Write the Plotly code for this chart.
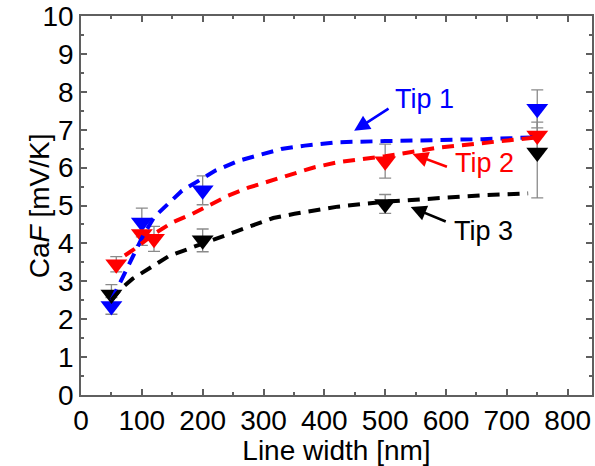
import plotly.graph_objects as go

# Measured points (triangles with error bars)
tip1_x = [50, 100, 200, 750]
tip1_y = [2.35, 4.55, 5.4, 7.55]
tip1_err = [0.22, 0.38, 0.38, 0.5]

tip2_x = [58, 100, 120, 500, 750]
tip2_y = [3.45, 4.25, 4.12, 6.17, 6.85]
tip2_err = [0.2, 0.3, 0.33, 0.45, 0.35]

tip3_x = [50, 200, 500, 750]
tip3_y = [2.65, 4.08, 5.04, 6.4]
tip3_err = [0.26, 0.3, 0.25, 1.2]

# Fitted saturation curves (dashed)
fit1_x = [50, 66, 101, 120, 145, 166, 193, 221, 259, 297, 329, 368, 422, 500, 585, 660, 750]
fit1_y = [2.5, 3.03, 4.17, 4.69, 5.08, 5.39, 5.65, 5.92, 6.18, 6.36, 6.49, 6.58, 6.67, 6.7, 6.72, 6.75, 6.8]

fit2_x = [72, 85, 120, 150, 183, 221, 242, 275, 313, 346, 384, 422, 500, 585, 650, 727, 750]
fit2_y = [3.68, 3.82, 4.25, 4.55, 4.78, 5.1, 5.26, 5.47, 5.66, 5.82, 6.01, 6.14, 6.3, 6.52, 6.62, 6.76, 6.8]

fit3_x = [50, 66, 85, 112, 144, 199, 270, 316, 351, 384, 422, 500, 585, 660, 735]
fit3_y = [2.5, 2.81, 3.07, 3.33, 3.66, 3.99, 4.39, 4.67, 4.78, 4.87, 4.97, 5.1, 5.2, 5.27, 5.32]

series = [
    ("Tip 1", "#0000ff", tip1_x, tip1_y, tip1_err, fit1_x, fit1_y),
    ("Tip 2", "#ff0000", tip2_x, tip2_y, tip2_err, fit2_x, fit2_y),
    ("Tip 3", "#000000", tip3_x, tip3_y, tip3_err, fit3_x, fit3_y),
]

FONT = "Liberation Sans, Arial, sans-serif"
AXIS_GREY = "#5f5f5f"

fig = go.Figure()

# Error bars first so the triangles sit on top of them
for name, color, px, py, pe, _, _ in series:
    fig.add_trace(go.Scatter(
        x=px, y=py, mode="markers", name=name + " error",
        marker=dict(size=1, color="rgba(0,0,0,0)"),
        error_y=dict(type="data", array=pe, visible=True,
                     color="#8a8a8a", thickness=1.3, width=6),
        hoverinfo="skip",
    ))

for name, color, px, py, pe, _, _ in series:
    fig.add_trace(go.Scatter(
        x=px, y=py, mode="markers", name=name,
        marker=dict(symbol="triangle-down", size=19, color=color,
                    line=dict(width=0)),
    ))

# Dashed fit curves drawn over the markers
for name, color, _, _, _, fx, fy in series:
    fig.add_trace(go.Scatter(
        x=fx, y=fy, mode="lines", name=name + " fit",
        line=dict(color=color, width=4, dash="12px,8px"),
        hoverinfo="skip",
    ))

# Labels with arrows pointing at the curves
labels = [
    ("Tip 1", "#0000ff", 565, 7.82, 449, 6.97, 508, 7.58),
    ("Tip 2", "#ff0000", 663, 6.13, 545, 6.36, 604, 6.01),
    ("Tip 3", "#000000", 662, 4.32, 542, 4.96, 602, 4.56),
]
for text, color, tx, ty, hx, hy, sx, sy in labels:
    fig.add_annotation(x=tx, y=ty, text=text, showarrow=False,
                       font=dict(family=FONT, size=27, color=color))
    fig.add_annotation(x=hx, y=hy, ax=sx, ay=sy, xref="x", yref="y",
                       axref="x", ayref="y", text="", showarrow=True,
                       arrowhead=2, arrowsize=1.2, arrowwidth=2.6,
                       arrowcolor=color)

# Rotated y-axis title placed left of the tick labels
fig.add_annotation(xref="paper", yref="paper", x=-0.115, y=0.5,
                   text="Ca<i>F</i> [mV/K]", textangle=-90, showarrow=False,
                   font=dict(family=FONT, size=28, color="#000000"))

axis_common = dict(
    showline=True, linecolor=AXIS_GREY, linewidth=1.5, mirror="allticks",
    ticks="inside", ticklen=6, tickwidth=1.5, tickcolor=AXIS_GREY,
    showgrid=False, zeroline=False, ticklabeloverflow="allow",
    tickfont=dict(family=FONT, size=28, color="#000000"),
)

fig.update_xaxes(
    range=[0, 840], tick0=0, dtick=100,
    minor=dict(ticks="inside", ticklen=3, dtick=50, tickcolor=AXIS_GREY, tickwidth=1.5),
    title=dict(text="Line width [nm]", font=dict(family=FONT, size=28, color="#000000"),
               standoff=4),
    **axis_common,
)
fig.update_yaxes(
    range=[0, 10], tick0=0, dtick=1,
    minor=dict(ticks="inside", ticklen=3, dtick=0.5, tickcolor=AXIS_GREY, tickwidth=1.5),
    **axis_common,
)

fig.update_layout(
    width=595, height=466,
    margin=dict(l=81, r=1, t=15, b=71),
    paper_bgcolor="white", plot_bgcolor="white",
    showlegend=False,
)

fig.write_html("out.html")
